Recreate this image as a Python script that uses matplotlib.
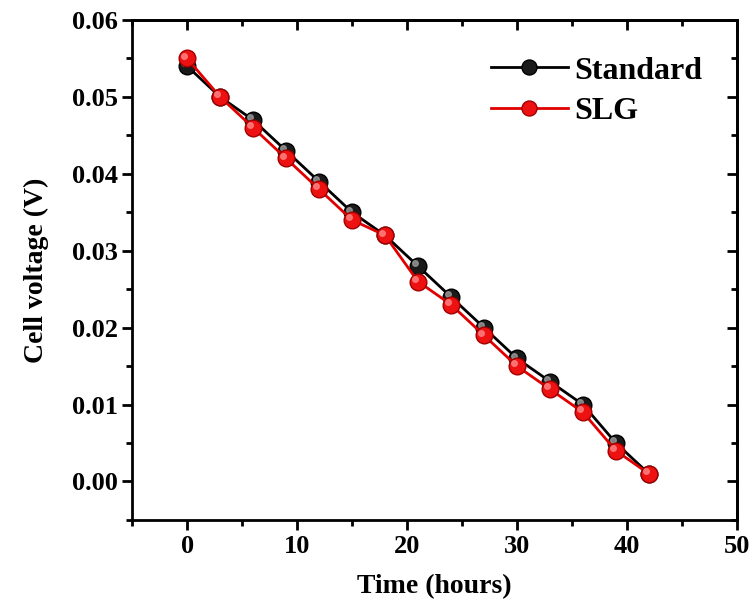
import matplotlib
matplotlib.use("Agg")
import matplotlib.pyplot as plt
import matplotlib.transforms as mtransforms
from matplotlib.ticker import MultipleLocator, FormatStrFormatter

time_h = [0, 3, 6, 9, 12, 15, 18, 21, 24, 27, 30, 33, 36, 39, 42]
standard = [0.054, 0.050, 0.047, 0.043, 0.039, 0.035, 0.032, 0.028,
            0.024, 0.020, 0.016, 0.013, 0.010, 0.005, 0.001]
slg = [0.055, 0.050, 0.046, 0.042, 0.038, 0.034, 0.032, 0.026,
       0.023, 0.019, 0.015, 0.012, 0.009, 0.004, 0.001]

plt.rcParams["font.family"] = ["Liberation Serif", "DejaVu Serif"]
plt.rcParams["font.weight"] = "bold"

fig = plt.figure(figsize=(7.55, 6.06), dpi=100)
ax = fig.add_axes([0.175, 0.142, 0.801, 0.825])

ax.plot(time_h, standard, "-o", color="black", lw=2, ms=12,
        mfc="#1a1a1a", mec="black", label="Standard", zorder=3)
ax.plot(time_h, slg, "-o", color="#e00000", lw=2, ms=12,
        mfc="#ee1111", mec="#a00000", label="SLG", zorder=4)

# small highlights to mimic the shaded sphere markers
hl = mtransforms.offset_copy(ax.transData, fig=fig, x=-2, y=2, units="points")
ax.plot(time_h, standard, "o", ms=4, color="#9a9a9a", alpha=0.8,
        transform=hl, zorder=3.5)
ax.plot(time_h, slg, "o", ms=4, color="#ff7a7a", alpha=0.9,
        transform=hl, zorder=4.5)

ax.set_xlim(-5, 50)
ax.set_ylim(-0.005, 0.06)
ax.xaxis.set_major_locator(MultipleLocator(10))
ax.xaxis.set_minor_locator(MultipleLocator(5))
ax.yaxis.set_major_locator(MultipleLocator(0.01))
ax.yaxis.set_minor_locator(MultipleLocator(0.005))
ax.yaxis.set_major_formatter(FormatStrFormatter("%.2f"))

for s in ax.spines.values():
    s.set_linewidth(2)
ax.tick_params(which="major", direction="out", length=7, width=2, labelsize=19)
ax.tick_params(which="minor", direction="out", length=4, width=2)

# mirrored ticks on top and right, pointing inward
top = ax.secondary_xaxis("top")
right = ax.secondary_yaxis("right")
top.xaxis.set_major_locator(MultipleLocator(10))
top.xaxis.set_minor_locator(MultipleLocator(5))
right.yaxis.set_major_locator(MultipleLocator(0.01))
right.yaxis.set_minor_locator(MultipleLocator(0.005))
for sec in (top, right):
    sec.tick_params(which="major", direction="in", length=7, width=2,
                    labeltop=False, labelright=False)
    sec.tick_params(which="minor", direction="in", length=4, width=2)
    sec.spines[:].set_linewidth(2)

ax.set_xlabel("Time (hours)", fontsize=20, fontweight="bold", labelpad=12)
ax.set_ylabel("Cell voltage (V)", fontsize=20, fontweight="bold", labelpad=16)

leg = ax.legend(loc="upper right", bbox_to_anchor=(0.99, 0.985), frameon=False,
                handlelength=2.4, handletextpad=0.2, labelspacing=0.35,
                markerscale=0.9, prop={"weight": "bold", "size": 23})

fig.savefig("out.png", dpi=100)
